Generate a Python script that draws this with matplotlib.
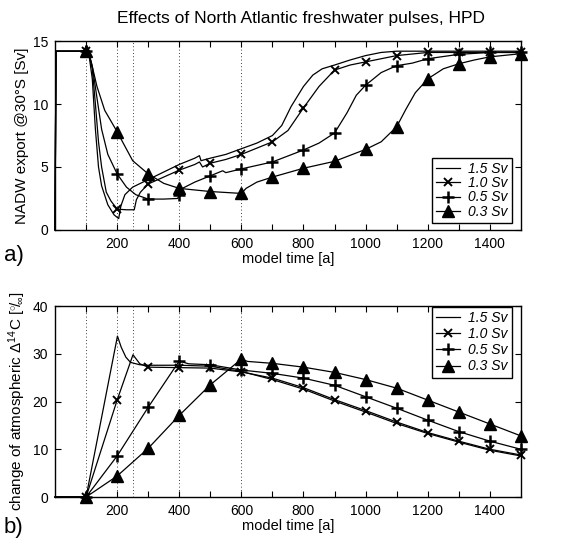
import matplotlib
matplotlib.use("Agg")
import matplotlib.pyplot as plt
import numpy as np

plt.rcParams['font.family'] = ['Liberation Sans', 'DejaVu Sans']
plt.rcParams['mathtext.fontset'] = 'custom'
plt.rcParams['mathtext.rm'] = 'Liberation Sans'
plt.rcParams['mathtext.it'] = 'Liberation Sans:italic'

# pulse strengths and the end of each pulse (dotted lines)
labels = ['1.5 Sv', '1.0 Sv', '0.5 Sv', '0.3 Sv']
pulse_lines = [100, 200, 250, 400, 600]

# --- a) NADW export @30S [Sv] ---
t15_a = [0, 3, 100, 110, 120, 130, 140, 150, 170, 190, 205, 212, 225, 250, 300, 350, 400, 450, 465, 470,
         500, 550, 600, 650, 700, 730, 760, 800, 830, 860, 900, 950, 1000, 1050, 1100, 1200, 1300, 1400, 1500]
v15_a = [0, 14.2, 14.2, 13.8, 12.0, 8.0, 5.0, 3.5, 2.0, 1.2, 0.9, 1.9, 2.8, 3.4, 4.0, 4.6, 5.2, 5.7, 5.9, 5.5,
         5.7, 6.0, 6.45, 6.9, 7.5, 8.3, 9.8, 11.4, 12.3, 12.8, 13.1, 13.5, 13.85, 14.1, 14.2, 14.2, 14.2, 14.2, 14.2]

t10_a = [0, 3, 100, 110, 120, 130, 140, 150, 165, 180, 200, 230, 255, 262, 275, 300, 350, 400, 450, 465, 475,
         500, 550, 600, 650, 700, 750, 800, 850, 900, 950, 1000, 1100, 1200, 1300, 1400, 1500]
v10_a = [0, 14.2, 14.2, 13.9, 12.8, 10.0, 7.0, 5.0, 3.0, 2.3, 1.65, 1.6, 1.6, 2.4, 3.0, 3.65, 4.2, 4.75, 5.2, 5.4, 5.0,
         5.3, 5.6, 6.0, 6.5, 7.0, 7.9, 9.7, 11.4, 12.7, 13.1, 13.35, 13.85, 14.1, 14.1, 14.1, 14.1]

t05_a = [0, 3, 100, 110, 120, 135, 150, 170, 200, 230, 260, 300, 350, 395, 400, 410, 450, 500, 540, 550,
         600, 700, 800, 850, 900, 940, 970, 1000, 1050, 1100, 1150, 1200, 1300, 1400, 1500]
v05_a = [0, 14.2, 14.2, 13.9, 13.0, 10.5, 8.0, 6.0, 4.45, 3.4, 2.8, 2.45, 2.45, 2.5, 2.8, 3.3, 3.8, 4.3, 4.7, 4.55,
         4.85, 5.4, 6.35, 6.9, 7.7, 9.3, 10.7, 11.5, 12.5, 13.05, 13.25, 13.6, 13.95, 14.1, 14.1]

t03_a = [0, 3, 100, 115, 135, 160, 200, 250, 300, 350, 400, 500, 600, 615, 650, 700, 800, 900, 1000, 1050,
         1100, 1130, 1160, 1200, 1250, 1300, 1350, 1400, 1500]
v03_a = [0, 14.2, 14.2, 13.5, 11.4, 9.5, 7.8, 5.5, 4.45, 3.7, 3.3, 3.05, 2.9, 3.3, 3.8, 4.2, 4.9, 5.45, 6.4, 7.0,
         8.2, 9.6, 10.9, 12.0, 12.8, 13.2, 13.5, 13.75, 14.0]

# --- b) change of atmospheric D14C [permil] ---
t15_b = [0, 100, 201, 213, 228, 243, 273, 300, 400, 500, 600, 700, 800, 900, 1000, 1100, 1200, 1300, 1400, 1500]
v15_b = [0, 0, 33.7, 31.4, 29.3, 28.2, 27.7, 27.6, 27.6, 27.4, 26.3, 24.6, 22.6, 20.1, 17.8, 15.4, 13.3, 11.5, 9.8, 8.6]

t10_b = [0, 100, 200, 251, 273, 300, 400, 500, 600, 700, 800, 900, 1000, 1100, 1200, 1300, 1400, 1500]
v10_b = [0, 0, 20.3, 29.8, 27.9, 27.2, 27.1, 27.0, 26.2, 24.9, 22.9, 20.4, 18.1, 15.7, 13.5, 11.7, 10.0, 8.8]

t05_b = [0, 100, 200, 300, 400, 430, 500, 600, 700, 800, 900, 1000, 1100, 1200, 1300, 1400, 1500]
v05_b = [0, 0, 8.6, 18.8, 28.5, 27.9, 27.7, 26.6, 25.9, 24.9, 23.4, 21.0, 18.6, 16.1, 13.7, 11.7, 10.0]

t03_b = [0, 100, 200, 300, 400, 500, 600, 620, 700, 800, 900, 1000, 1100, 1200, 1300, 1400, 1500]
v03_b = [0, 0, 4.4, 10.2, 17.1, 23.5, 28.9, 28.4, 28.0, 27.2, 26.1, 24.6, 22.8, 20.3, 17.8, 15.3, 12.8]

styles = [dict(marker=None),
          dict(marker='x', ms=6, mew=1.4),
          dict(marker='+', ms=9, mew=1.8),
          dict(marker='^', ms=8)]


def draw(ax, series):
    for (t, v), st, lab in zip(series, styles, labels):
        t = np.asarray(t)
        every = [i for i in range(len(t)) if t[i] % 100 == 0 and t[i] > 0]
        ax.plot(t, v, color='black', lw=0.9, markevery=every, label=lab,
                mfc='black', mec='black', clip_on=False, **st)


def frame(ax, ymax, yticks):
    ax.set_xlim(0, 1500)
    ax.set_ylim(0, ymax)
    ticks = list(range(100, 1500, 100))
    ax.set_xticks(ticks)
    ax.set_xticklabels([str(x) if x % 200 == 0 else '' for x in ticks])
    ax.set_yticks(yticks)
    ax.tick_params(direction='in', length=4, width=0.8, top=True, right=True, labelsize=10, pad=5)
    for s in ax.spines.values():
        s.set_linewidth(1.0)
    for x in pulse_lines:
        ax.axvline(x, color='black', lw=0.6, ls=(0, (1, 3)), zorder=0)
    ax.set_xlabel('model time [a]', fontsize=10.5, labelpad=1)


fig = plt.figure(figsize=(5.62, 5.41), dpi=100)
ax1 = fig.add_axes([0.0979, 0.575, 0.829, 0.349])
ax2 = fig.add_axes([0.0979, 0.0813, 0.829, 0.353])

draw(ax1, [(t15_a, v15_a), (t10_a, v10_a), (t05_a, v05_a), (t03_a, v03_a)])
frame(ax1, 15, [0, 5, 10, 15])
ax1.set_ylabel('NADW export @30°S [Sv]', fontsize=11, labelpad=3)

draw(ax2, [(t15_b, v15_b), (t10_b, v10_b), (t05_b, v05_b), (t03_b, v03_b)])
frame(ax2, 40, [0, 10, 20, 30, 40])
ax2.set_ylabel(r'change of atmospheric $\Delta^{14}$C [$^{\circ}\!/\!_{\infty}$]', fontsize=11, labelpad=3)

leg_kw = dict(frameon=True, fancybox=False, framealpha=1, edgecolor='black',
              prop={'style': 'italic', 'size': 10}, handlelength=1.7, borderpad=0.3,
              handletextpad=0.6, borderaxespad=0)
l1 = ax1.legend(loc='lower right', bbox_to_anchor=(0.981, 0.037), labelspacing=0.02, **leg_kw)
l2 = ax2.legend(loc='upper right', bbox_to_anchor=(0.981, 0.995), labelspacing=0.15, **leg_kw)
for l in (l1, l2):
    l.get_frame().set_linewidth(1.0)
    l.set_zorder(5)

fig.text(301 / 562, 1 - 18 / 541, 'Effects of North Atlantic freshwater pulses, HPD',
         ha='center', va='center', fontsize=12.5)
fig.text(4 / 562, 1 - 256 / 541, 'a)', fontsize=16, va='center', ha='left')
fig.text(4 / 562, 1 - 527 / 541, 'b)', fontsize=16, va='center', ha='left')

fig.savefig('out.png', dpi=100)
